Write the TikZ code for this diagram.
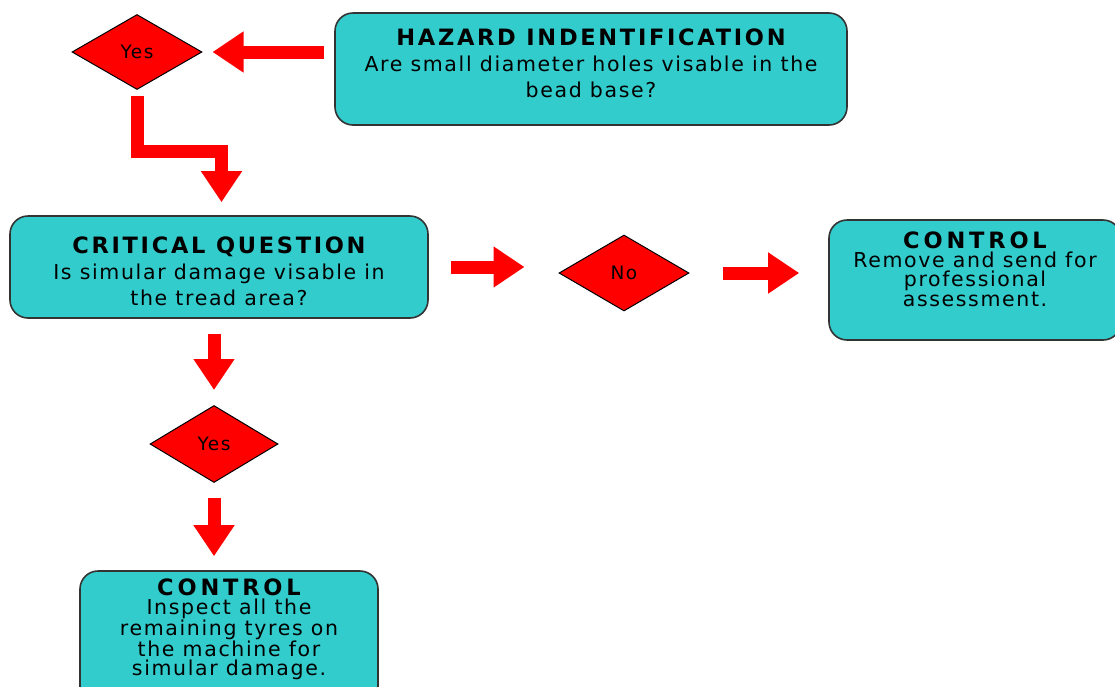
\documentclass[tikz,border=0pt]{standalone}
\usepackage{fontspec}
\setmainfont{DejaVu Sans}[LetterSpace=8]
\usetikzlibrary{shapes.geometric,arrows.meta}
\definecolor{teal}{HTML}{33CCCC}
\definecolor{bord}{HTML}{333333}
\definecolor{rd}{HTML}{FF0000}
\newcommand\ttlfont{\bfseries\fontsize{22.5}{26}\selectfont\addfontfeature{LetterSpace=12}}
\newcommand\ctlfont{\bfseries\fontsize{22.5}{20}\selectfont\addfontfeature{LetterSpace=17}}
\tikzset{
  box/.style={draw=bord, line width=1.6pt, fill=teal, rounded corners=18pt, inner sep=0pt},
  txt/.style={align=center, inner sep=0pt, font=\fontsize{20.5}{26}\selectfont},
  tighttxt/.style={align=center, inner sep=0pt, font=\fontsize{20.5}{19.3}\selectfont},
  dia/.style={diamond, draw=black, line width=1pt, fill=rd, inner sep=0pt, font=\fontsize{18.5}{18}\selectfont},
  blockarrow/.style={draw=rd, line width=13pt, line join=miter,
    -{Triangle[width=39pt,length=31pt]}}
}
\begin{document}
\begin{tikzpicture}[x=1pt,y=-1pt]
\useasboundingbox (0,0) rectangle (1115,686);
\clip (0,0) rectangle (1115,686);
% boxes
\node[box, minimum width=512pt, minimum height=112pt] (haz) at (591,69) {};
\node[txt] (hazt) at (591,63) {{\ttlfont HAZARD INDENTIFICATION}\\Are small diameter holes visable in the\\bead base?};
\node[box, minimum width=418pt, minimum height=102pt] (crit) at (219,267) {};
\node[txt] (critt) at (219,271) {{\ttlfont CRITICAL QUESTION}\\Is simular damage visable in\\the tread area?};
\node[box, minimum width=292pt, minimum height=120pt] (ctla) at (975,280) {};
\node[tighttxt] (ctlat) at (975,269) {{\ctlfont CONTROL}\\Remove and send for\\professional\\assessment.};
\node[box, minimum width=298pt, minimum height=140pt] (ctlb) at (229,641) {};
\node[tighttxt] (ctlbt) at (229,629) {{\ctlfont CONTROL}\\Inspect all the\\remaining tyres on\\the machine for\\simular damage.};
% diamonds
\node[dia, minimum width=130pt, minimum height=75pt] (yesa) at (137,52) {Yes};
\node[dia, minimum width=130pt, minimum height=76pt] (no) at (624,273) {No};
\node[dia, minimum width=128pt, minimum height=77pt] (yesb) at (214,444) {Yes};
% arrows
\draw[blockarrow, shorten <=10pt, shorten >=10pt] (haz.west |- yesa.east) -- (yesa.east);
\coordinate (elb) at (221.5,151);
\draw[blockarrow, shorten <=6pt, shorten >=13pt] (yesa.south) |- (elb) -- (elb |- crit.north);
\draw[blockarrow, shorten <=22pt, shorten >=34pt] (crit.east) -- (crit.east -| no.west);
\draw[blockarrow, shorten <=33pt, shorten >=29pt] (no.east) -- (no.east -| ctla.west);
\draw[blockarrow, shorten <=15pt, shorten >=15pt] (yesb.north |- crit.south) -- (yesb.north);
\draw[blockarrow, shorten <=15pt, shorten >=14pt] (yesb.south) -- (yesb.south |- ctlb.north);
\end{tikzpicture}
\end{document}
